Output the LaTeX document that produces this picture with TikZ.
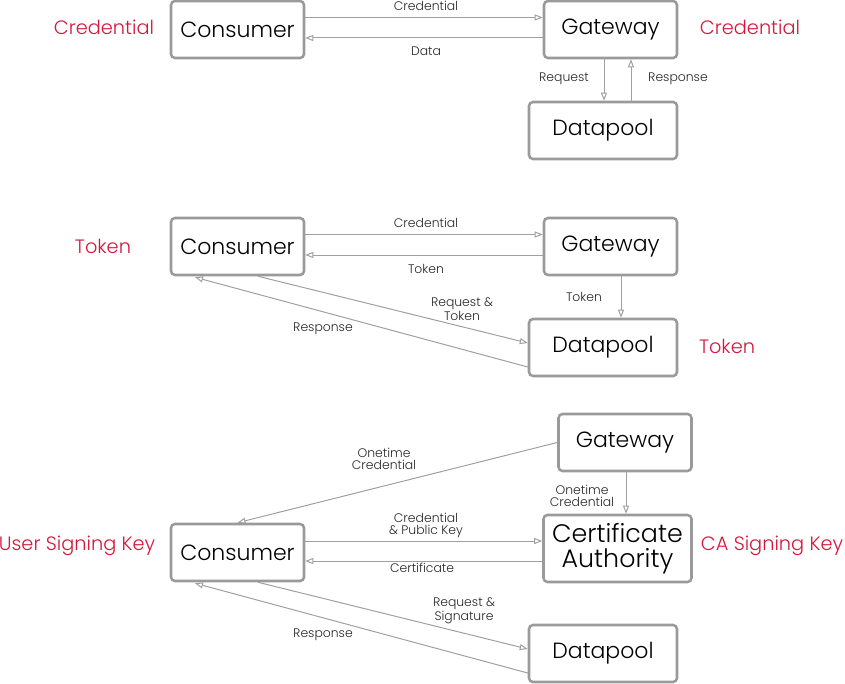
\documentclass[tikz,border=0pt]{standalone}
\usepackage{fontspec}
\setmainfont{Poppins}[UprightFont=* Light]
\usetikzlibrary{arrows.meta,calc}
\definecolor{boxgray}{HTML}{9A9A9A}
\definecolor{linegray}{HTML}{A0A0A0}
\definecolor{keyred}{HTML}{D4163C}
\tikzset{
  box/.style={draw=boxgray, line width=1.9pt, rounded corners=3pt, fill=white,
    minimum height=42.75pt, inner sep=0pt, font=\fontsize{16.5}{18}\selectfont},
  wide/.style={minimum width=99.75pt},
  wider/.style={minimum width=111pt},
  link/.style={draw=linegray, line width=0.75pt,
    -{Triangle[open, length=6pt, width=4.5pt]}},
  tag/.style={font=\fontsize{9.3}{9}\selectfont, text=black!85, align=center, inner sep=0pt},
  key/.style={font=\fontsize{14.5}{16}\selectfont, text=keyred, inner sep=0pt}
}
\begin{document}
\begin{tikzpicture}[x=0.75pt,y=-0.75pt]
  \useasboundingbox (0,0) rectangle (845,684);
  % first row
  \node[box,wide] (c1) at (237.5,29.5) {Consumer};
  \node[box,wide] (g1) at (610.5,29.5) {Gateway};
  \node[box,wider] (d1) at (603,130.5) {Datapool};
  \node[key] (k1) at (104,27) {Credential};
  \node[key] (k2) at (750,27) {Credential};
  \draw[link] ($(c1.east)+(0,-12)$) -- ($(g1.west)+(0,-12)$);
  \draw[link] ($(g1.west)+(0,8.5)$) -- ($(c1.east)+(0,8.5)$);
  \node[tag] (t1) at (426,6) {Credential};
  \node[tag] (t2) at (426,51) {Data};
  \draw[link] ($(g1.south)+(-6.5,0)$) -- ($(d1.north)+(1,0)$);
  \draw[link] ($(d1.north)+(28,0)$) -- ($(g1.south)+(20.5,0)$);
  \node[tag] (t3) at (564,79) {Request};
  \node[tag] (t4) at (678,79) {Response};
  % second row
  \node[box,wide] (c2) at (237.5,246.5) {Consumer};
  \node[box,wide] (g2) at (610.5,246.5) {Gateway};
  \node[box,wider] (d2) at (603,347.5) {Datapool};
  \node[key] (k3) at (103,246) {Token};
  \node[key] (k4) at (727,346) {Token};
  \draw[link] ($(c2.east)+(0,-12)$) -- ($(g2.west)+(0,-12)$);
  \draw[link] ($(g2.west)+(0,8.5)$) -- ($(c2.east)+(0,8.5)$);
  \node[tag] (t5) at (426,223) {Credential};
  \node[tag] (t6) at (426,269) {Token};
  \draw[link] ($(g2.south)+(10.5,0)$) -- ($(d2.north)+(18,0)$);
  \node[tag] (t7) at (584,297) {Token};
  \draw[link] ($(c2.south)+(20.5,0)$) -- ($(d2.west)+(0,-4.5)$);
  \draw[link] ($(d2.west)+(0,19.5)$) -- ($(c2.south)+(-42.5,1)$);
  \node[tag] (t8) at (462,309) {Request \&\\Token};
  \node[tag] (t9) at (323,329) {Response};
  % third row
  \node[box,wide] (g3) at (625,442.5) {Gateway};
  \node[box,wider,minimum height=50.25pt,align=center,
    font=\fontsize{19}{19}\selectfont] (ca) at (617.5,548.5) {Certificate\\Authority};
  \node[box,wide] (c3) at (237.5,552.5) {Consumer};
  \node[box,wider] (d3) at (603,653.5) {Datapool};
  \node[key] (k5) at (77,546) {User Signing Key};
  \node[key] (k6) at (772,546) {CA Signing Key};
  \draw[link] (g3.west) -- (c3.north);
  \node[tag] (t10) at (384,459) {Onetime\\Credential};
  \draw[link] ($(g3.south)+(1,0)$) -- ($(ca.north)+(8.5,0)$);
  \node[tag] (t11) at (582,496) {Onetime\\Credential};
  \draw[link] ($(c3.east)+(0,-11.5)$) -- ($(ca.west)+(0,-7.5)$);
  \draw[link] ($(ca.west)+(0,12.5)$) -- ($(c3.east)+(0,8.5)$);
  \node[tag] (t12) at (426,525) {Credential\\\& Public Key};
  \node[tag] (t13) at (422,568) {Certificate};
  \draw[link] ($(c3.south)+(20.5,0)$) -- ($(d3.west)+(0,-4.5)$);
  \draw[link] ($(d3.west)+(0,19.5)$) -- ($(c3.south)+(-42.5,1)$);
  \node[tag] (t14) at (464,611) {Request \&\\Signature};
  \node[tag] (t15) at (323,635) {Response};
\end{tikzpicture}
\end{document}
